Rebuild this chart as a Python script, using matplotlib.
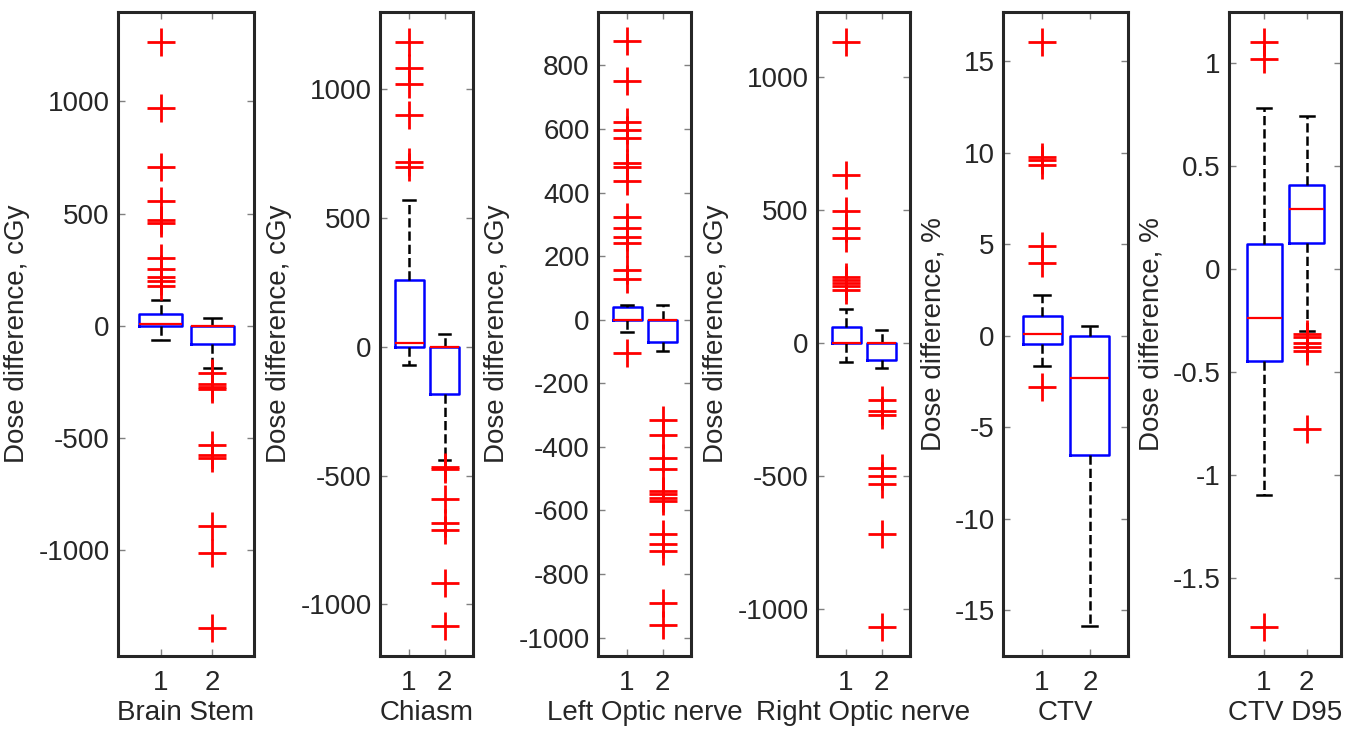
import matplotlib
matplotlib.use("Agg")
import matplotlib.pyplot as plt
from matplotlib.ticker import FuncFormatter

plt.rcParams['font.family'] = ['Liberation Sans', 'DejaVu Sans']
plt.rcParams['axes.unicode_minus'] = False

# panel names and y labels
names = ['Brain Stem', 'Chiasm', 'Left Optic nerve', 'Right Optic nerve', 'CTV', 'CTV D95']
ylabels = ['Dose difference, cGy'] * 4 + ['Dose difference, %'] * 2

# box stats: [whislo, q1, med, q3, whishi] for groups 1 and 2
brain_stem_box = [[-62, 0, 10, 52, 115], [-187, -79, 0, 0, 37]]
brain_stem_out = [[1265, 969, 708, 556, 473, 458, 302, 254, 219, 198, 177],
                  [-208, -260, -273, -281, -531, -577, -590, -890, -1010, -1344]]

chiasm_box = [[-69, 0, 15, 260, 569], [-440, -182, 0, 0, 51]]
chiasm_out = [[1185, 1082, 1022, 900, 718, 700],
              [-467, -473, -591, -682, -709, -918, -1082]]

left_optic_box = [[-40, 0, 0, 41, 45], [-98, -69, 0, 0, 45]]
left_optic_out = [[876, 752, 622, 596, 571, 494, 479, 435, 322, 289, 260, 242, 157, 127, -105],
                  [-315, -362, -435, -469, -538, -549, -560, -570, -674, -706, -728, -892, -960]]

right_optic_box = [[-70, 0, 0, 62, 128], [-95, -65, 0, 0, 49]]
right_optic_out = [[1133, 633, 497, 432, 395, 250, 237, 225, 213, 199],
                   [-214, -255, -272, -469, -499, -531, -719, -1067]]

ctv_box = [[-1.66, -0.46, 0.1, 1.07, 2.22], [-15.84, -6.5, -2.32, 0, 0.51]]
ctv_out = [[16.05, 9.74, 9.57, 9.31, 4.9, 3.95, -2.83], []]

ctv_d95_box = [[-1.1, -0.447, -0.238, 0.12, 0.782], [-0.3, 0.127, 0.29, 0.41, 0.744]]
ctv_d95_out = [[1.102, 1.018, -1.739], [-0.315, -0.333, -0.36, -0.379, -0.397, -0.776]]

all_box = [brain_stem_box, chiasm_box, left_optic_box, right_optic_box, ctv_box, ctv_d95_box]
all_out = [brain_stem_out, chiasm_out, left_optic_out, right_optic_out, ctv_out, ctv_d95_out]

yticks = [[-1000, -500, 0, 500, 1000],
          [-1000, -500, 0, 500, 1000],
          [-1000, -800, -600, -400, -200, 0, 200, 400, 600, 800],
          [-1000, -500, 0, 500, 1000],
          [-15, -10, -5, 0, 5, 10, 15],
          [-1.5, -1, -0.5, 0, 0.5, 1]]
ylims = [(-1470, 1398), (-1200, 1300), (-1058, 968), (-1178, 1246), (-17.5, 17.68), (-1.88, 1.248)]

# axes boxes in pixels (left, right), shared top/bottom
W, H = 1356, 733
xspans = [(118, 254), (380, 473), (598, 691), (817, 910), (1003, 1128), (1229, 1341)]
top_px, bot_px = 12, 656

fig = plt.figure(figsize=(W / 100, H / 100), dpi=100)

edge = '#262626'
for i in range(6):
    x0, x1 = xspans[i]
    ax = fig.add_axes([x0 / W, 1 - bot_px / H, (x1 - x0) / W, (bot_px - top_px) / H])
    stats = []
    for b, o in zip(all_box[i], all_out[i]):
        stats.append(dict(whislo=b[0], q1=b[1], med=b[2], q3=b[3], whishi=b[4], fliers=o))
    ax.bxp(stats, positions=[1, 2], widths=0.82, capwidths=0.32,
           boxprops=dict(color='blue', linewidth=1.8),
           medianprops=dict(color='red', linewidth=1.6),
           whiskerprops=dict(color='black', linestyle='--', linewidth=1.8),
           capprops=dict(color='black', linewidth=1.8),
           flierprops=dict(marker='+', markeredgecolor='red', markersize=20,
                           markeredgewidth=2.0, linestyle='none'))
    ax.set_xlim(0.18, 2.8)
    ax.set_ylim(*ylims[i])
    ax.set_xticks([1, 2])
    ax.set_xticklabels(['1', '2'])
    ax.set_yticks(yticks[i])
    ax.yaxis.set_major_formatter(FuncFormatter(lambda v, p: '%g' % v))
    ax.tick_params(direction='in', length=5, width=1, color='#808080',
                   top=True, right=True, labelsize=20, labelcolor=edge)
    ax.tick_params(axis='x', pad=10)
    ax.tick_params(axis='y', pad=6)
    for s in ax.spines.values():
        s.set_color(edge)
        s.set_linewidth(2.2)
    ax.set_xlabel(names[i], fontsize=20, color=edge, labelpad=3)
    ax.set_ylabel(ylabels[i], fontsize=20, color=edge, labelpad=6)

fig.savefig('out.png', dpi=100)
